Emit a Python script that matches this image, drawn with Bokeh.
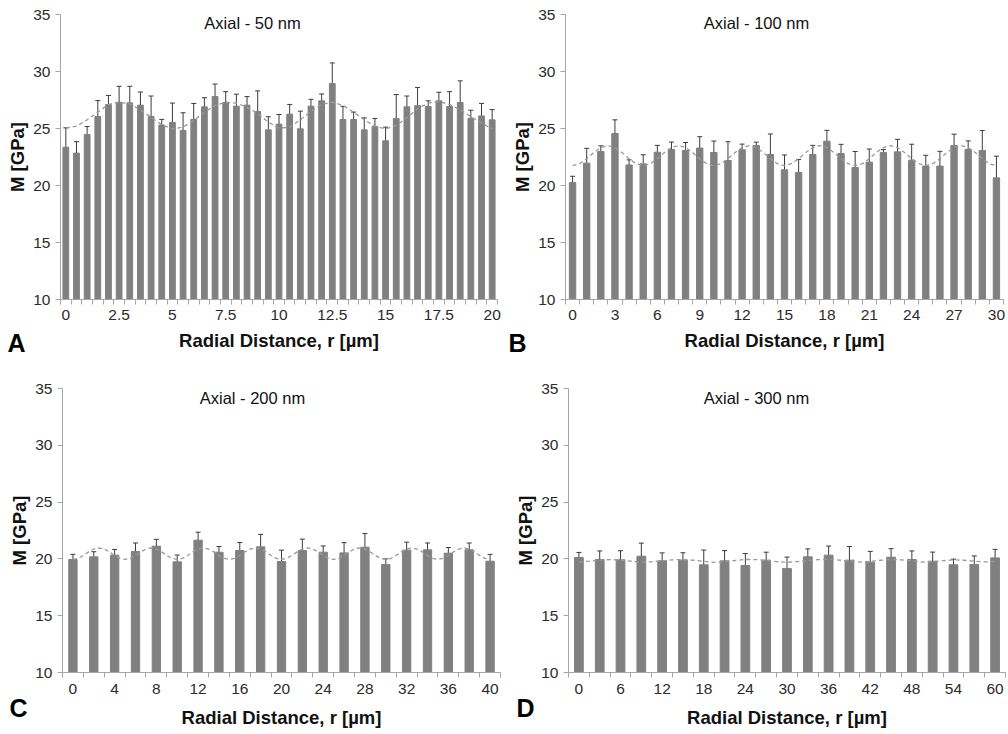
from bokeh.plotting import figure
from bokeh.models import (ColumnDataSource, Whisker, TeeHead, FixedTicker,
                          NumeralTickFormatter, Range1d, Label)
from bokeh.layouts import column, row
from bokeh.embed import file_html
from bokeh.resources import INLINE

# ---------------- data ----------------
# Panel A: Axial - 50 nm
a_r = [i * 0.5 for i in range(41)]
a_m = [23.36, 22.84, 24.47, 26.05, 27.1, 27.3, 27.25, 27.05, 26.05, 25.3,
       25.53, 24.83, 25.79, 26.9, 27.8, 27.28, 26.96, 27.05, 26.5, 24.88,
       25.38, 26.26, 24.97, 26.96, 27.43, 28.95, 25.79, 25.79, 24.88, 25.18,
       23.92, 25.88, 26.9, 27.0, 26.93, 27.43, 26.93, 27.28, 25.9, 26.1, 25.76]
a_err = [1.7, 1.0, 0.7, 1.4, 0.8, 1.4, 1.45, 1.15, 1.8, 0.5,
         1.7, 1.55, 1.4, 0.8, 1.1, 0.95, 1.05, 0.75, 1.8, 1.15,
         0.85, 0.85, 1.55, 0.6, 0.6, 1.8, 1.15, 0.65, 1.05, 0.7,
         1.2, 2.1, 0.95, 1.6, 0.5, 0.75, 1.3, 1.9, 0.7, 1.1, 0.9]
a_trend_r = [i * 0.5 for i in range(41)]
a_trend = [25.03, 25.2, 25.76, 26.43, 27.11, 27.31, 27.16, 26.64, 25.99, 25.32,
           24.97, 25.12, 25.7, 26.43, 27.02, 27.31, 27.22, 26.87, 26.29, 25.56,
           25.03, 25.12, 25.76, 26.52, 27.11, 27.31, 27.02, 26.43, 25.76, 25.2,
           24.97, 25.26, 25.94, 26.73, 27.22, 27.37, 27.11, 26.64, 26.05, 25.47,
           24.97]
a_ticks = [0, 2.5, 5, 7.5, 10, 12.5, 15, 17.5, 20]

# Panel B: Axial - 100 nm
b_r = [i * 1 for i in range(31)]
b_m = [20.26, 21.96, 22.98, 24.56, 21.8, 21.9, 22.92, 23.16, 23.07, 23.28,
       22.9, 22.19, 23.13, 23.5, 22.72, 21.38, 21.14, 22.72, 23.89, 22.81,
       21.58, 22.05, 22.9, 22.95, 22.22, 21.7, 21.7, 23.5, 23.16, 23.07, 20.67]
b_err = [0.55, 1.3, 0.5, 1.2, 0.45, 0.8, 0.6, 0.65, 0.7, 1.0,
         1.0, 1.65, 0.5, 0.3, 1.8, 1.3, 1.15, 0.8, 0.95, 0.8,
         1.4, 1.15, 0.25, 1.1, 1.4, 0.95, 1.3, 1.0, 0.75, 1.75, 1.9]
b_trend_r = [i * 0.5 for i in range(61)]
b_trend = [21.74, 21.91, 22.35, 22.89, 23.33, 23.5, 23.33, 22.89, 22.35, 21.91,
           21.74, 21.91, 22.35, 22.89, 23.33, 23.5, 23.33, 22.89, 22.35, 21.91,
           21.74, 21.91, 22.35, 22.89, 23.33, 23.5, 23.33, 22.89, 22.35, 21.91,
           21.74, 21.91, 22.35, 22.89, 23.33, 23.5, 23.33, 22.89, 22.35, 21.91,
           21.74, 21.91, 22.35, 22.89, 23.33, 23.5, 23.33, 22.89, 22.35, 21.91,
           21.74, 21.91, 22.35, 22.89, 23.33, 23.5, 23.33, 22.89, 22.35, 21.91,
           21.74]
b_ticks = [0, 3, 6, 9, 12, 15, 18, 21, 24, 27, 30]

# Panel C: Axial - 200 nm
c_r = [i * 2 for i in range(21)]
c_m = [19.95, 20.18, 20.33, 20.65, 21.12, 19.74, 21.65, 20.59, 20.74, 21.06,
       19.77, 20.74, 20.59, 20.53, 21.03, 19.5, 20.77, 20.8, 20.5, 20.8, 19.8]
c_err = [0.45, 0.45, 0.5, 0.75, 0.6, 0.6, 0.7, 0.5, 0.7, 1.1,
         1.0, 1.0, 0.55, 0.9, 1.2, 0.5, 0.7, 0.6, 0.5, 0.6, 0.6]
c_trend_r = [i * 0.5 for i in range(81)]
c_trend = [19.95, 20.05, 20.3, 20.62, 20.87, 20.97, 20.87, 20.62, 20.3, 20.05,
           19.95, 20.05, 20.3, 20.62, 20.87, 20.97, 20.87, 20.62, 20.3, 20.05,
           19.95, 20.05, 20.3, 20.62, 20.87, 20.97, 20.87, 20.62, 20.3, 20.05,
           19.95, 20.05, 20.3, 20.62, 20.87, 20.97, 20.87, 20.62, 20.3, 20.05,
           19.95, 20.05, 20.3, 20.62, 20.87, 20.97, 20.87, 20.62, 20.3, 20.05,
           19.95, 20.05, 20.3, 20.62, 20.87, 20.97, 20.87, 20.62, 20.3, 20.05,
           19.95, 20.05, 20.3, 20.62, 20.87, 20.97, 20.87, 20.62, 20.3, 20.05,
           19.95, 20.05, 20.3, 20.62, 20.87, 20.97, 20.87, 20.62, 20.3, 20.05,
           19.95]
c_ticks = [0, 4, 8, 12, 16, 20, 24, 28, 32, 36, 40]

# Panel D: Axial - 300 nm
d_r = [i * 3 for i in range(21)]
d_m = [20.12, 19.95, 19.92, 20.24, 19.83, 19.89, 19.48, 19.83, 19.42, 19.89,
       19.16, 20.18, 20.33, 19.89, 19.71, 20.15, 19.95, 19.8, 19.48, 19.51, 20.09]
d_err = [0.45, 0.75, 0.8, 1.15, 0.7, 0.65, 1.3, 0.9, 1.05, 0.7,
         1.0, 0.7, 0.8, 1.2, 0.95, 0.75, 0.75, 0.8, 0.5, 0.75, 0.75]
d_trend_r = [i * 1.5 for i in range(41)]
d_trend = [19.72, 19.8, 19.9, 19.94, 19.9, 19.8, 19.72, 19.75, 19.83, 19.92,
           19.94, 19.88, 19.78, 19.7, 19.76, 19.86, 19.95, 19.94, 19.86, 19.76,
           19.7, 19.76, 19.86, 19.94, 19.96, 19.9, 19.8, 19.72, 19.78, 19.88,
           19.95, 19.92, 19.82, 19.72, 19.74, 19.84, 19.92, 19.88, 19.8, 19.74,
           19.78]
d_ticks = [0, 6, 12, 18, 24, 30, 36, 42, 48, 54, 60]

y_ticks = [10, 15, 20, 25, 30, 35]

FONT = "Liberation Sans"
AXIS_GREY = "#a6a6a6"
BAR = "#808080"


def panel(title, letter, r, m, err, tr, tm, ticks, step, frac,
          W, H, L, R, T, B, title_y_px, letter_px, lab_so, title_so):
    # data extent of the axis box
    x0, x1 = -step / 2, r[-1] + step / 2
    y0, y1 = 10, 35
    sx = (x1 - x0) / (R - L)
    sy = (y1 - y0) / (B - T)
    X0, X1 = x0 - L * sx, x1 + (W - R) * sx
    Y0, Y1 = y0 - (H - B) * sy, y1 + T * sy

    p = figure(width=W, height=H, output_backend="svg",
               toolbar_location=None, x_range=Range1d(X0, X1),
               y_range=Range1d(Y0, Y1), min_border=0,
               min_border_left=0, min_border_right=0,
               min_border_top=0, min_border_bottom=0)
    p.outline_line_color = None
    p.grid.grid_line_color = None
    p.background_fill_color = "white"
    p.border_fill_color = "white"

    lo = [v - e for v, e in zip(m, err)]
    up = [v + e for v, e in zip(m, err)]
    src = ColumnDataSource(dict(r=r, m=m, lo=lo, up=up))
    p.vbar(x="r", top="m", bottom=y0, width=step * frac, source=src,
           fill_color=BAR, line_color=BAR)
    p.line(tr, tm, line_dash="4 3", line_color="#9a9a9a", line_width=1.3)
    w = Whisker(source=src, base="r", upper="up", lower="lo",
                line_color="#3c3c3c", line_width=1,
                upper_head=TeeHead(size=5, line_color="#3c3c3c", line_width=1),
                lower_head=TeeHead(size=5, line_color="#3c3c3c", line_width=1))
    p.add_layout(w)

    # x axis, placed on the y = 10 line
    xa = p.xaxis[0]
    xa.fixed_location = y0
    xa.bounds = (x0, x1)
    edges = [x0 + k * step for k in range(len(r) + 1)]
    xa.ticker = FixedTicker(ticks=ticks, minor_ticks=edges)
    xa.formatter = NumeralTickFormatter(format="0.[0]")
    xa.major_tick_line_color = None
    xa.major_tick_out = 5
    xa.major_tick_in = 0
    xa.minor_tick_out = 5
    xa.minor_tick_in = 0
    xa.minor_tick_line_color = AXIS_GREY
    xa.axis_line_color = AXIS_GREY
    xa.major_label_text_font = FONT
    xa.major_label_text_font_size = "15.5px"
    xa.major_label_text_color = "#2b2b2b"
    xa.major_label_standoff = lab_so
    xa.axis_label = "Radial Distance, r [µm]"
    xa.axis_label_text_font = FONT
    xa.axis_label_text_font_style = "bold"
    xa.axis_label_text_font_size = "18.5px"
    xa.axis_label_text_color = "#111111"
    xa.axis_label_standoff = title_so

    # y axis, placed on the left edge of the bars
    ya = p.yaxis[0]
    ya.fixed_location = x0
    ya.bounds = (y0, y1)
    ya.ticker = FixedTicker(ticks=y_ticks, minor_ticks=[])
    ya.major_tick_out = 5
    ya.major_tick_in = 0
    ya.major_tick_line_color = AXIS_GREY
    ya.minor_tick_line_color = None
    ya.axis_line_color = AXIS_GREY
    ya.major_label_text_font = FONT
    ya.major_label_text_font_size = "15.5px"
    ya.major_label_text_color = "#2b2b2b"
    ya.major_label_standoff = 5
    ya.axis_label = "M [GPa]"
    ya.axis_label_text_font = FONT
    ya.axis_label_text_font_style = "bold"
    ya.axis_label_text_font_size = "18.5px"
    ya.axis_label_text_color = "#111111"
    ya.axis_label_standoff = 2

    def dx(px):
        return X0 + px * sx

    def dy(py):
        return Y1 - py * sy

    p.add_layout(Label(x=dx(W / 2), y=dy(title_y_px), text=title,
                       text_align="center", text_baseline="middle",
                       text_font=FONT, text_font_size="16.5px",
                       text_color="#111111"))
    p.add_layout(Label(x=dx(letter_px[0]), y=dy(letter_px[1]), text=letter,
                       text_align="left", text_baseline="middle",
                       text_font=FONT, text_font_size="25px",
                       text_font_style="bold", text_color="#000000"))
    return p


pA = panel("Axial - 50 nm", "A", a_r, a_m, a_err, a_trend_r, a_trend, a_ticks,
           0.5, 0.54, 504, 367, 60, 497, 14, 299, 22, (7, 342), 5, 7)
pB = panel("Axial - 100 nm", "B", b_r, b_m, b_err, b_trend_r, b_trend, b_ticks,
           1, 0.45, 504, 367, 61, 499, 14, 299, 22, (4, 342), 5, 7)
pC = panel("Axial - 200 nm", "C", c_r, c_m, c_err, c_trend_r, c_trend, c_ticks,
           2, 0.40, 504, 366, 62, 500, 21, 305, 30, (9, 340), 6, 10)
pD = panel("Axial - 300 nm", "D", d_r, d_m, d_err, d_trend_r, d_trend, d_ticks,
           3, 0.42, 504, 366, 64, 501, 21, 305, 30, (12, 340), 6, 10)

layout = column(row(pA, pB), row(pC, pD))
open("out.html", "w").write(file_html(layout, INLINE))
